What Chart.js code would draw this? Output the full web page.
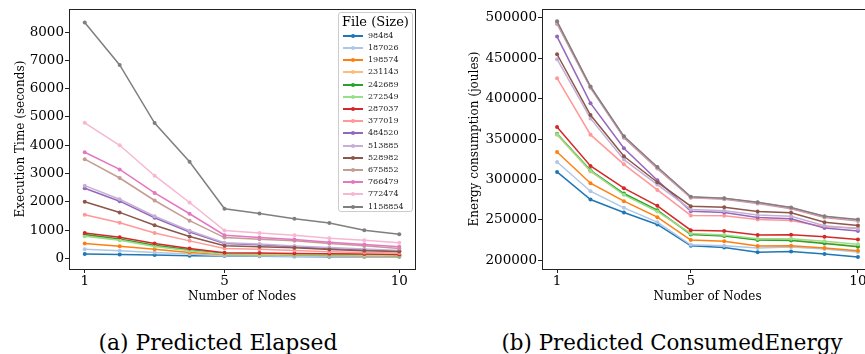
<!DOCTYPE html>
<html>
<head>
<meta charset="utf-8">
<script src="https://cdn.jsdelivr.net/npm/chart.js@4"></script>
<style>
  html, body { margin: 0; padding: 0; background: #fff; }
  body { width: 865px; height: 354px; overflow: hidden; position: relative; font-family: "DejaVu Serif", serif; }
  #wrapA { position: absolute; left: 0; top: 0; }
  #wrapB { position: absolute; left: 430px; top: 0; }
  .caption { position: absolute; top: 330px; font-family: "DejaVu Serif", serif; font-size: 20px; line-height: 26px; white-space: nowrap; color: #000; transform: translateX(-50%); }
  #legend { position: absolute; left: 338px; top: 12px; width: 75px; height: 200px; border: 1px solid #ccc; border-radius: 3px; background: rgba(255,255,255,0.8); box-sizing: border-box; }
  #legend .title { position: absolute; left: 0; width: 100%; top: 1px; text-align: center; font-size: 13px; line-height: 16px; }
  .item { position: absolute; left: 0; width: 100%; height: 12px; }
  .item .ln { position: absolute; left: 4px; top: 5px; width: 20px; height: 2px; }
  .item .pt { position: absolute; left: 12px; top: 4px; width: 4px; height: 4px; border-radius: 50%; }
  .item .tx { position: absolute; left: 29px; top: 0; font-size: 8px; line-height: 12px; color: #222; }
</style>
</head>
<body>
<div id="wrapA"><canvas id="elapsed" width="430" height="310"></canvas></div>
<div id="wrapB"><canvas id="energy" width="450" height="310"></canvas></div>
<div id="legend"><div class="title">File (Size)</div></div>
<div class="caption" data-w="239" style="left:218px">(a) Predicted Elapsed</div>
<div class="caption" data-w="341" style="left:672px">(b) Predicted ConsumedEnergy</div>

<script>
const nodes = [1, 2, 3, 4, 5, 6, 7, 8, 9, 10];
const nodeTicks = [1, 5, 10];
const elapsedTicks = [0, 1000, 2000, 3000, 4000, 5000, 6000, 7000, 8000];
const energyTicks = [200000, 250000, 300000, 350000, 400000, 450000, 500000];

const fileSizes = ['98484', '187026', '198574', '231143', '242689', '272549', '287037',
  '377019', '484520', '513885', '528982', '675852', '766479', '772474', '1158854'];

const colors = ['#1f77b4', '#aec7e8', '#ff7f0e', '#ffbb78', '#2ca02c', '#98df8a', '#d62728',
  '#ff9896', '#9467bd', '#c5b0d5', '#8c564b', '#c49c94', '#e377c2', '#f7b6d2', '#7f7f7f'];

// execution time (seconds), one row per file
const elapsed = [
  [152, 140, 117, 94, 82, 72, 68, 62, 58, 55],
  [327, 269, 211, 152, 90, 85, 80, 75, 70, 65],
  [526, 430, 327, 211, 140, 129, 117, 105, 94, 82],
  [800, 660, 440, 285, 150, 140, 130, 120, 110, 100],
  [842, 690, 468, 304, 164, 152, 140, 129, 117, 105],
  [784, 643, 421, 269, 152, 145, 135, 125, 115, 105],
  [900, 749, 526, 351, 199, 187, 175, 164, 152, 140],
  [1544, 1263, 900, 620, 351, 327, 281, 234, 211, 187],
  [2480, 2023, 1439, 936, 526, 480, 409, 351, 304, 257],
  [2572, 2090, 1490, 980, 555, 510, 440, 385, 330, 275],
  [2000, 1626, 1170, 772, 444, 409, 374, 316, 269, 246],
  [3509, 2842, 2047, 1333, 737, 678, 620, 526, 444, 351],
  [3754, 3146, 2316, 1579, 819, 737, 667, 573, 491, 409],
  [4795, 4000, 2924, 1977, 982, 900, 819, 713, 643, 550],
  [8339, 6842, 4784, 3415, 1754, 1591, 1404, 1251, 994, 854]
];

// energy consumption (joules), one row per file
const energy = [
  [309500, 275300, 259300, 244400, 218100, 216000, 209900, 211100, 207800, 204100],
  [321800, 285600, 265000, 247300, 219300, 218100, 215200, 216500, 214000, 210300],
  [334200, 295500, 273300, 253500, 225100, 223500, 217700, 218100, 215200, 211900],
  [355500, 310000, 282000, 261000, 232500, 230500, 225500, 225500, 221500, 217500],
  [356800, 311500, 282700, 262100, 232100, 230000, 225100, 224700, 221000, 216900],
  [356000, 310700, 281100, 260500, 233300, 231300, 226700, 226700, 223500, 219800],
  [365000, 316900, 289300, 267500, 237400, 236200, 231300, 231700, 229200, 225900],
  [425500, 355600, 318900, 287200, 255600, 255100, 250600, 249400, 241600, 239900],
  [477000, 394600, 338700, 299200, 260900, 259300, 253100, 251400, 239900, 236200],
  [449000, 375700, 324700, 293800, 263000, 261300, 256000, 254700, 242800, 239100],
  [455100, 379800, 328800, 296700, 267100, 265800, 260500, 258800, 247300, 243200],
  [492600, 413600, 351900, 313600, 277400, 275700, 270400, 263800, 253100, 248600],
  [494800, 414500, 352800, 314800, 278000, 276500, 271200, 264800, 254000, 249800],
  [495200, 414800, 353200, 315000, 278200, 276700, 271500, 265000, 254300, 250000],
  [495900, 415200, 353500, 315600, 278600, 277000, 272000, 265400, 254700, 250600]
];

const serif = '"DejaVu Serif", serif';

const framePlugin = {
  id: 'frame',
  afterDatasetsDraw(chart) {
    const { ctx, chartArea: a } = chart;
    ctx.save();
    ctx.strokeStyle = '#222';
    ctx.lineWidth = 1;
    ctx.strokeRect(Math.round(a.left) + 0.5, Math.round(a.top) + 0.5,
      Math.round(a.right - a.left), Math.round(a.bottom - a.top));
    ctx.restore();
  }
};

function makeDatasets(rows) {
  return rows.map((row, i) => ({
    label: fileSizes[i],
    data: row.map((v, j) => ({ x: nodes[j], y: v })),
    borderColor: colors[i],
    backgroundColor: colors[i],
    pointBackgroundColor: colors[i],
    borderWidth: 1.5,
    pointRadius: 2,
    pointBorderWidth: 0,
    tension: 0,
    order: rows.length - i
  }));
}

function makeChart(id, rows, cfg) {
  new Chart(document.getElementById(id), {
    type: 'line',
    data: { datasets: makeDatasets(rows) },
    plugins: [framePlugin],
    options: {
      responsive: false,
      animation: false,
      layout: { padding: { top: cfg.top, right: cfg.right, left: 0, bottom: 0 } },
      plugins: { legend: { display: false }, tooltip: { enabled: false } },
      scales: {
        x: {
          type: 'linear',
          min: 0.55,
          max: 10.45,
          afterBuildTicks: s => { s.ticks = nodeTicks.map(v => ({ value: v })); },
          afterFit: s => { s.height = 41; },
          ticks: { font: { family: serif, size: 13.5 }, color: '#000', padding: 0, maxRotation: 0, autoSkip: false, callback: v => String(v) },
          grid: { drawOnChartArea: false, drawTicks: true, tickLength: 4, color: '#222' },
          border: { display: false },
          title: { display: true, text: 'Number of Nodes', font: { family: serif, size: 12 }, color: '#000', padding: { top: 0, bottom: 6 } }
        },
        y: {
          min: cfg.min,
          max: cfg.max,
          afterBuildTicks: s => { s.ticks = cfg.ticks.map(v => ({ value: v })); },
          afterFit: s => { s.width = cfg.axisWidth; },
          ticks: { font: { family: serif, size: 13.5 }, color: '#000', padding: 1, autoSkip: false, callback: v => String(v) },
          grid: { drawOnChartArea: false, drawTicks: true, tickLength: 4, color: '#222' },
          border: { display: false },
          title: { display: true, text: cfg.title, font: { family: serif, size: 12 }, color: '#000', padding: { top: cfg.titlePad, bottom: 0 } }
        }
      }
    }
  });
}

makeChart('elapsed', elapsed, {
  top: 7, right: 15, min: -375, max: 8815, ticks: elapsedTicks,
  axisWidth: 69, title: 'Execution Time (seconds)', titlePad: 14
});

makeChart('energy', energy, {
  top: 8, right: 7, min: 189300, max: 511000, ticks: energyTicks,
  axisWidth: 112, title: 'Energy consumption (joules)', titlePad: 38
});

// legend for the left panel
const legend = document.getElementById('legend');
fileSizes.forEach((name, i) => {
  const item = document.createElement('div');
  item.className = 'item';
  item.style.top = (16.7 + 12.2 * i) + 'px';
  item.innerHTML = '<span class="ln" style="background:' + colors[i] + '"></span>' +
    '<span class="pt" style="background:' + colors[i] + '"></span>' +
    '<span class="tx">' + name + '</span>';
  legend.appendChild(item);
});

// size captions to the reference width
document.querySelectorAll('.caption').forEach(el => {
  const target = +el.dataset.w;
  const w = el.getBoundingClientRect().width;
  el.style.fontSize = (20 * target / w).toFixed(2) + 'px';
});
</script>
</body>
</html>
